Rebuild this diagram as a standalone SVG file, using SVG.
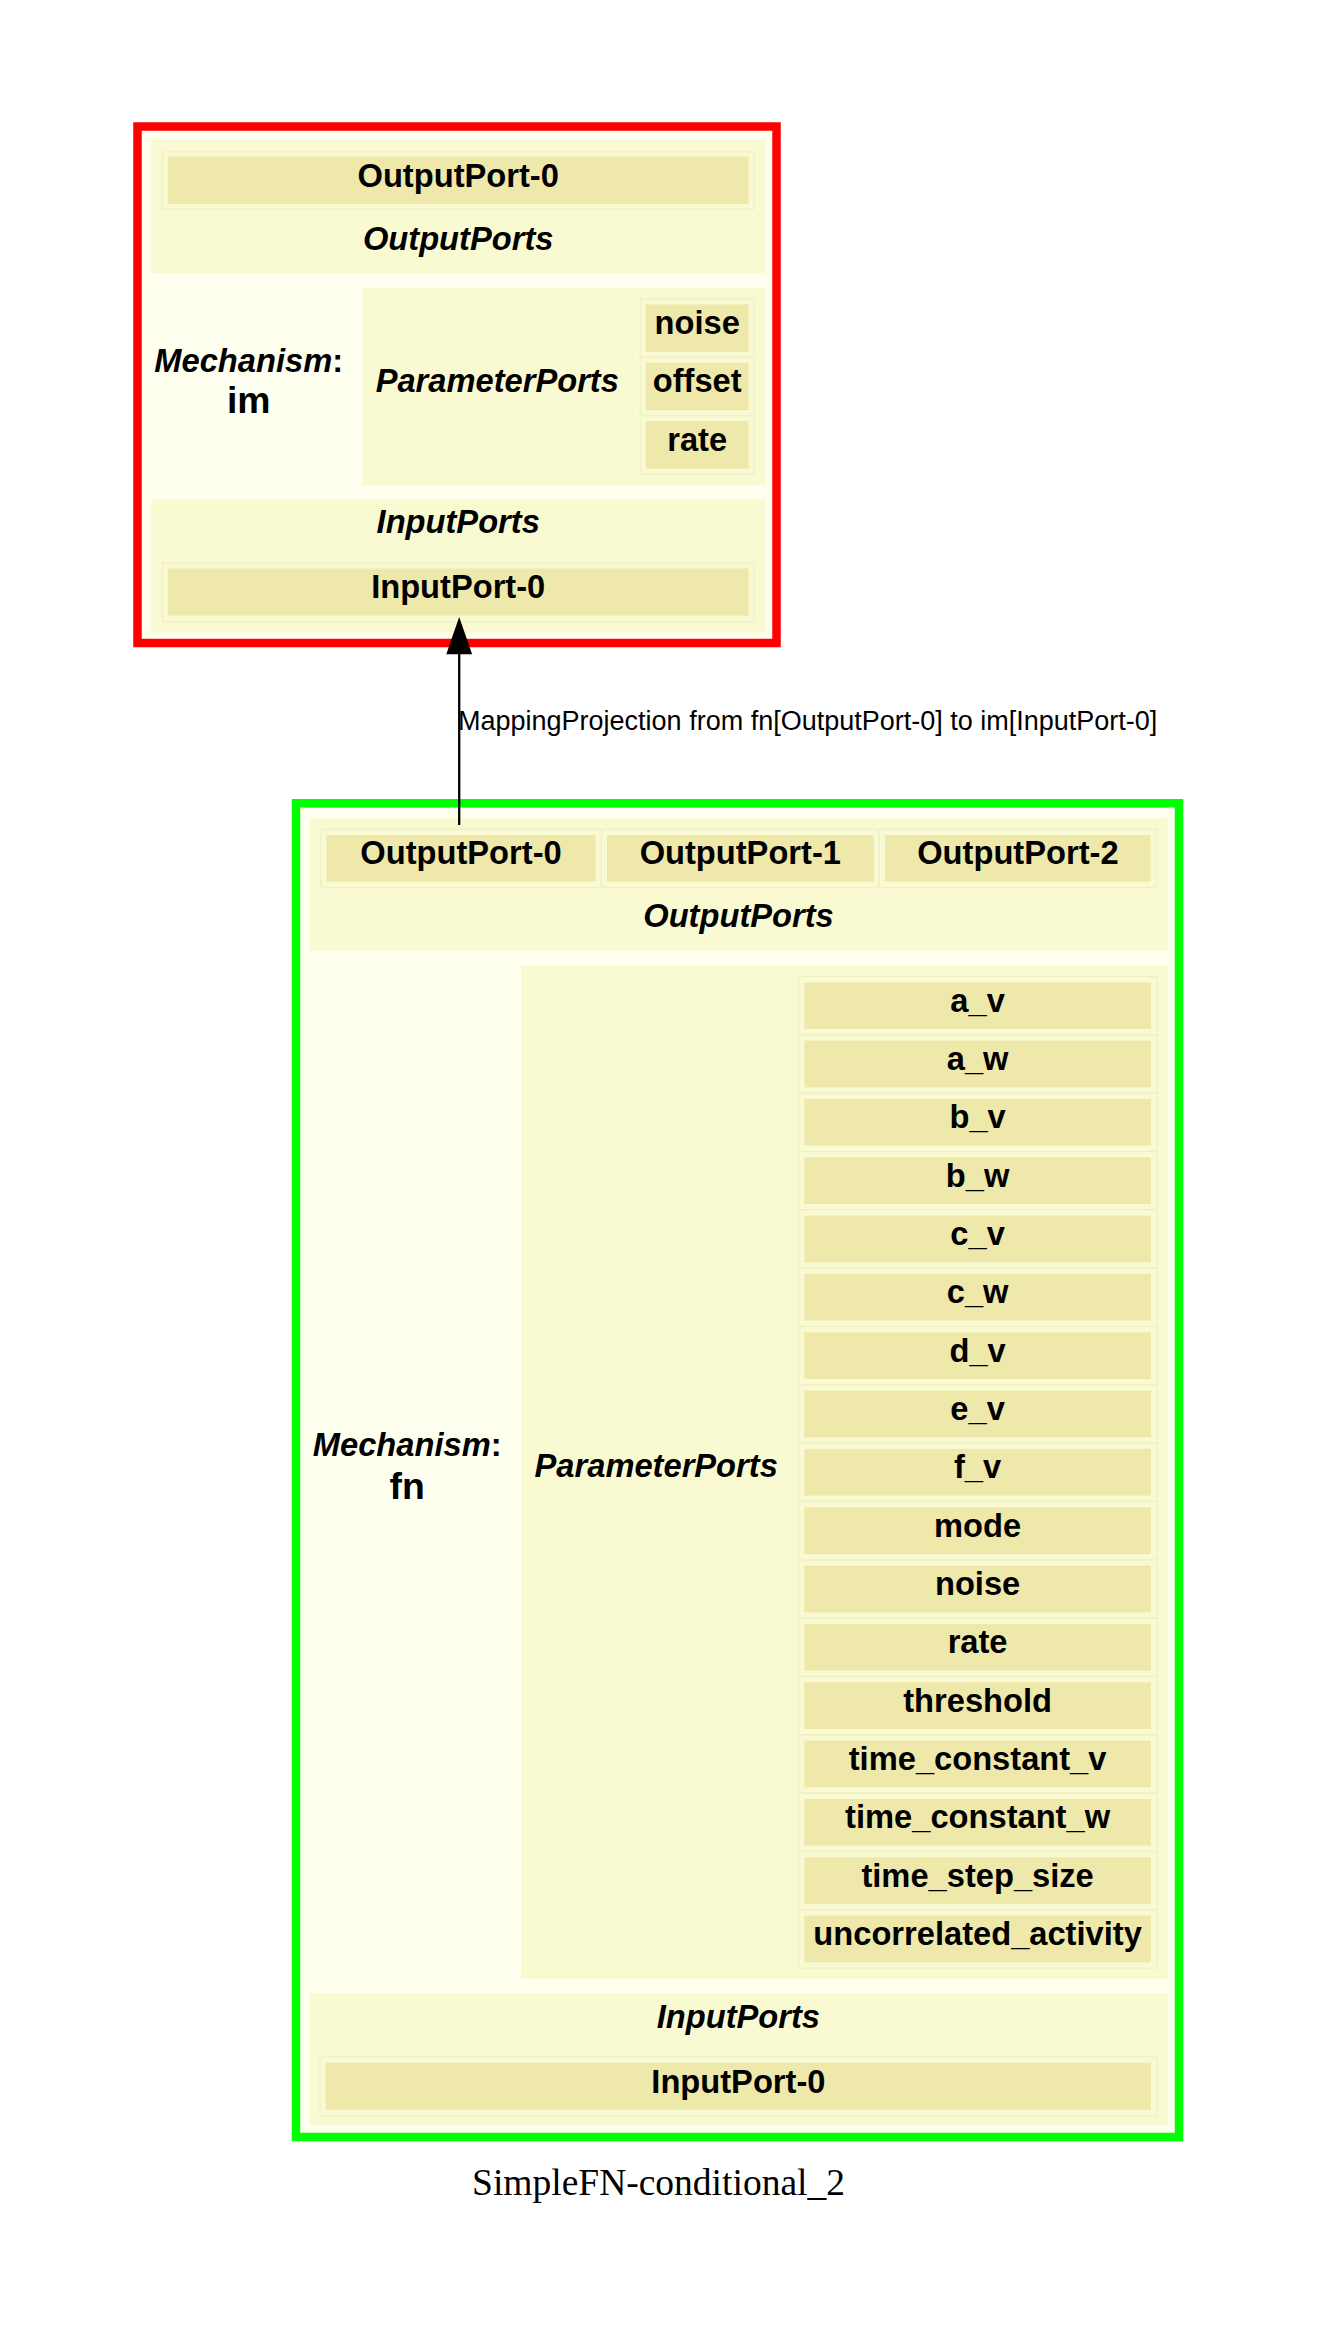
<svg xmlns="http://www.w3.org/2000/svg" width="1317" height="2328" viewBox="0 0 1317 2328">
<style>
.bg{fill:#FFFFFF}
.node{fill:#FFFFF0;stroke-width:8.5}
.sec{fill:#FAFAD2}
.port{fill:#EEE8AA}
.cell{fill:none;stroke:#F0F0C6;stroke-width:1.2}
.t{font-family:"Liberation Sans",Arial,Helvetica,sans-serif;font-weight:bold;font-size:32.67px;text-anchor:middle;fill:#000}
.i{font-style:italic}
.big{font-size:37.33px}
.lbl{font-family:"Liberation Sans",Arial,Helvetica,sans-serif;font-size:27px;fill:#000}
.title{font-family:"Liberation Serif","Times New Roman",serif;font-size:37.5px;text-anchor:middle;fill:#000}
.edge{stroke:#000;stroke-width:2.3;fill:none}
</style>
<rect class="bg" x="0" y="0" width="1317" height="2328"/>

<g id="im">
  <rect class="node" x="137.5" y="126.5" width="639" height="516.5" stroke="#FF0000"/>
  <!-- OutputPorts -->
  <rect class="sec" x="151.3" y="140" width="613.9" height="133.3"/>
  <rect class="cell" x="162.5" y="151.9" width="591.5" height="57.4"/>
  <rect class="port" x="167.9" y="156.7" width="580.7" height="47.4"/>
  <text class="t" x="458.2" y="187">OutputPort-0</text>
  <text class="t i" x="458.2" y="250">OutputPorts</text>
  <!-- Mechanism label -->
  <text class="t" x="248.7" y="371.5"><tspan class="i">Mechanism</tspan>:</text>
  <text class="t big" x="248.7" y="413">im</text>
  <!-- ParameterPorts -->
  <rect class="sec" x="362.5" y="287.8" width="402.7" height="197.4"/>
  <text class="t i" x="497.3" y="391.5">ParameterPorts</text>
  <rect class="cell" x="640.2" y="298.9" width="113.8" height="58.4"/>
  <rect class="cell" x="640.2" y="357.3" width="113.8" height="58.4"/>
  <rect class="cell" x="640.2" y="415.7" width="113.8" height="58.4"/>
  <rect class="port" x="645.9" y="304.4" width="102.7" height="47.4"/>
  <rect class="port" x="645.9" y="362.8" width="102.7" height="47.4"/>
  <rect class="port" x="645.9" y="421.2" width="102.7" height="47.4"/>
  <text class="t" x="697.2" y="334">noise</text>
  <text class="t" x="697.2" y="392.4">offset</text>
  <text class="t" x="697.2" y="450.8">rate</text>
  <!-- InputPorts -->
  <rect class="sec" x="151.3" y="499.3" width="613.9" height="133.3"/>
  <text class="t i" x="458.2" y="533.3">InputPorts</text>
  <rect class="cell" x="162.5" y="563" width="591.5" height="58.5"/>
  <rect class="port" x="167.9" y="568.5" width="580.7" height="47.1"/>
  <text class="t" x="458.2" y="598">InputPort-0</text>
</g>

<g id="fn">
  <rect class="node" x="296" y="803.3" width="883" height="1333.7" stroke="#00FF00"/>
  <!-- OutputPorts -->
  <rect class="sec" x="309.5" y="818" width="858" height="132.7"/>
  <rect class="cell" x="320.7" y="829.2" width="280.5" height="58.3"/>
  <rect class="cell" x="601.2" y="829.2" width="278.1" height="58.3"/>
  <rect class="cell" x="879.3" y="829.2" width="277.1" height="58.3"/>
  <rect class="port" x="326.5" y="835" width="268.9" height="46.7"/>
  <rect class="port" x="607" y="835" width="266.6" height="46.7"/>
  <rect class="port" x="885.1" y="835" width="265.5" height="46.7"/>
  <text class="t" x="461" y="864.3">OutputPort-0</text>
  <text class="t" x="740.3" y="864.3">OutputPort-1</text>
  <text class="t" x="1017.9" y="864.3">OutputPort-2</text>
  <text class="t i" x="738.5" y="926.7">OutputPorts</text>
  <!-- Mechanism label -->
  <text class="t" x="407.2" y="1456"><tspan class="i">Mechanism</tspan>:</text>
  <text class="t big" x="407.2" y="1499">fn</text>
  <!-- ParameterPorts -->
  <rect class="sec" x="521.3" y="965.3" width="646.4" height="1013.7"/>
  <text class="t i" x="656.2" y="1476.7">ParameterPorts</text>
  <g>
    <rect class="cell" x="798.6" y="976.5" width="358.4" height="58.33"/>
    <rect class="cell" x="798.6" y="1034.8" width="358.4" height="58.33"/>
    <rect class="cell" x="798.6" y="1093.1" width="358.4" height="58.33"/>
    <rect class="cell" x="798.6" y="1151.5" width="358.4" height="58.33"/>
    <rect class="cell" x="798.6" y="1209.8" width="358.4" height="58.33"/>
    <rect class="cell" x="798.6" y="1268.1" width="358.4" height="58.33"/>
    <rect class="cell" x="798.6" y="1326.5" width="358.4" height="58.33"/>
    <rect class="cell" x="798.6" y="1384.8" width="358.4" height="58.33"/>
    <rect class="cell" x="798.6" y="1443.1" width="358.4" height="58.33"/>
    <rect class="cell" x="798.6" y="1501.5" width="358.4" height="58.33"/>
    <rect class="cell" x="798.6" y="1559.8" width="358.4" height="58.33"/>
    <rect class="cell" x="798.6" y="1618.1" width="358.4" height="58.33"/>
    <rect class="cell" x="798.6" y="1676.5" width="358.4" height="58.33"/>
    <rect class="cell" x="798.6" y="1734.8" width="358.4" height="58.33"/>
    <rect class="cell" x="798.6" y="1793.1" width="358.4" height="58.33"/>
    <rect class="cell" x="798.6" y="1851.5" width="358.4" height="58.33"/>
    <rect class="cell" x="798.6" y="1909.8" width="358.4" height="58.33"/>
  </g>
  <g>
    <rect class="port" x="804.3" y="982.3" width="346.7" height="46.7"/>
    <rect class="port" x="804.3" y="1040.6" width="346.7" height="46.7"/>
    <rect class="port" x="804.3" y="1098.9" width="346.7" height="46.7"/>
    <rect class="port" x="804.3" y="1157.3" width="346.7" height="46.7"/>
    <rect class="port" x="804.3" y="1215.6" width="346.7" height="46.7"/>
    <rect class="port" x="804.3" y="1273.9" width="346.7" height="46.7"/>
    <rect class="port" x="804.3" y="1332.3" width="346.7" height="46.7"/>
    <rect class="port" x="804.3" y="1390.6" width="346.7" height="46.7"/>
    <rect class="port" x="804.3" y="1448.9" width="346.7" height="46.7"/>
    <rect class="port" x="804.3" y="1507.3" width="346.7" height="46.7"/>
    <rect class="port" x="804.3" y="1565.6" width="346.7" height="46.7"/>
    <rect class="port" x="804.3" y="1623.9" width="346.7" height="46.7"/>
    <rect class="port" x="804.3" y="1682.3" width="346.7" height="46.7"/>
    <rect class="port" x="804.3" y="1740.6" width="346.7" height="46.7"/>
    <rect class="port" x="804.3" y="1798.9" width="346.7" height="46.7"/>
    <rect class="port" x="804.3" y="1857.3" width="346.7" height="46.7"/>
    <rect class="port" x="804.3" y="1915.6" width="346.7" height="46.7"/>
  </g>
  <text class="t" x="977.6" y="1011.7">a_v</text>
  <text class="t" x="977.6" y="1070">a_w</text>
  <text class="t" x="977.6" y="1128.3">b_v</text>
  <text class="t" x="977.6" y="1186.7">b_w</text>
  <text class="t" x="977.6" y="1245">c_v</text>
  <text class="t" x="977.6" y="1303.3">c_w</text>
  <text class="t" x="977.6" y="1361.7">d_v</text>
  <text class="t" x="977.6" y="1420">e_v</text>
  <text class="t" x="977.6" y="1478.3">f_v</text>
  <text class="t" x="977.6" y="1536.7">mode</text>
  <text class="t" x="977.6" y="1595">noise</text>
  <text class="t" x="977.6" y="1653.3">rate</text>
  <text class="t" x="977.6" y="1711.7">threshold</text>
  <text class="t" x="977.6" y="1770">time_constant_v</text>
  <text class="t" x="977.6" y="1828.3">time_constant_w</text>
  <text class="t" x="977.6" y="1886.7">time_step_size</text>
  <text class="t" x="977.6" y="1945">uncorrelated_activity</text>
  <!-- InputPorts -->
  <rect class="sec" x="309.5" y="1993.3" width="858" height="132.4"/>
  <text class="t i" x="738.4" y="2028.3">InputPorts</text>
  <rect class="cell" x="320" y="2056.7" width="837" height="59"/>
  <rect class="port" x="325.7" y="2062.7" width="825.3" height="47.3"/>
  <text class="t" x="738.4" y="2092.7">InputPort-0</text>
</g>

<g id="connectors">
  <g id="edge-fn-im">
    <line class="edge" x1="459.2" y1="825" x2="459.2" y2="652"/>
    <polygon points="459.2,620.4 447.9,653 470.5,653" fill="#000" stroke="#000" stroke-width="2.3"/>
    <text class="lbl" x="458" y="730">MappingProjection from fn[OutputPort-0] to im[InputPort-0]</text>
  </g>
</g>

<text class="title" x="658.5" y="2195">SimpleFN-conditional_2</text>
</svg>
